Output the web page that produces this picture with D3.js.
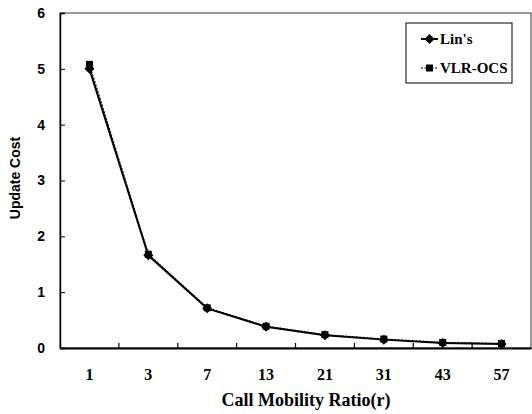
<!DOCTYPE html>
<html><head><meta charset="utf-8">
<script src="https://cdn.jsdelivr.net/npm/d3@7"></script>
<style>body{margin:0;background:#fff}svg{display:block}</style>
</head><body>
<script>
const categories = ["1","3","7","13","21","31","43","57"];
const linValues = [5.00, 1.66, 0.71, 0.38, 0.23, 0.15, 0.09, 0.07];
const vlrValues = [5.08, 1.68, 0.72, 0.39, 0.24, 0.16, 0.10, 0.08];
const yTicks = [0,1,2,3,4,5,6];
const seriesNames = ["Lin's", "VLR-OCS"];

const W = 532, H = 414;
const m = {left:60, right:1, top:13, bottom:66};
const svg = d3.select("body").append("svg").attr("width", W).attr("height", H);
const serif = "'Liberation Serif','Times New Roman',serif";
const sans = "'Liberation Sans','DejaVu Sans',sans-serif";

const x = d3.scaleBand().domain(categories).range([m.left, W - m.right]);
const y = d3.scaleLinear().domain([0,6]).range([H - m.bottom, m.top]);

// frame
svg.append("rect").attr("x", m.left).attr("y", m.top)
  .attr("width", W - m.right - m.left).attr("height", H - m.bottom - m.top)
  .attr("fill","none").attr("stroke","#333").attr("stroke-width",1);

// x axis
const xAxis = d3.axisBottom(x).tickSize(0).tickPadding(21);
const gx = svg.append("g").attr("transform", `translate(0,${H - m.bottom})`).call(xAxis);
gx.attr("font-size", null).attr("font-family", null);
gx.select(".domain").attr("stroke","#000").attr("stroke-width",2);
gx.selectAll("text").style("font-family", serif).style("font-size", "16px").style("font-weight","bold").attr("fill","#000");
// inner ticks between categories
svg.append("g").selectAll("line").data(categories.slice(1)).join("line")
  .attr("x1", d => x(d)).attr("x2", d => x(d))
  .attr("y1", H - m.bottom).attr("y2", H - m.bottom - 5)
  .attr("stroke","#000").attr("stroke-width",1.2);

// y axis
const yAxis = d3.axisLeft(y).tickValues(yTicks).tickSize(-5).tickPadding(15).tickFormat(d3.format("d"));
const gy = svg.append("g").attr("transform", `translate(${m.left},0)`).call(yAxis);
gy.attr("font-size", null).attr("font-family", null);
gy.select(".domain").attr("stroke","#000").attr("stroke-width",1.5);
gy.selectAll(".tick line").attr("stroke","#000");
gy.selectAll("text").style("font-family", sans).style("font-size", "14px").style("font-weight","bold").attr("fill","#000");

// axis titles
svg.append("text").attr("x", 306).attr("y", 406)
  .attr("text-anchor","middle").style("font-family", serif).style("font-size", "18px")
  .style("font-weight","bold").text("Call Mobility Ratio(r)");
svg.append("text").attr("transform", `translate(20,178) rotate(-90)`)
  .attr("text-anchor","middle").style("font-family", sans).style("font-size", "14px")
  .style("font-weight","bold").text("Update Cost");

const cx = d => x(d) + x.bandwidth()/2;

// VLR-OCS dotted line with squares
const line = d3.line().x(d => cx(d[0])).y(d => y(d[1]));
svg.append("path").datum(categories.map((c,i)=>[c,vlrValues[i]]))
  .attr("d", line).attr("fill","none").attr("stroke","#000").attr("stroke-width",1.2).attr("stroke-dasharray","2,1.5");
svg.append("g").selectAll("rect").data(categories.map((c,i)=>[c,vlrValues[i]])).join("rect")
  .attr("x", d => cx(d[0]) - 3.5).attr("y", d => y(d[1]) - 3.5).attr("width",7).attr("height",7).attr("fill","#000");

// Lin's solid line with diamonds
svg.append("path").datum(categories.map((c,i)=>[c,linValues[i]]))
  .attr("d", line).attr("fill","none").attr("stroke","#000").attr("stroke-width",2);
const dia = "M0,-5L5,0L0,5L-5,0Z";
svg.append("g").selectAll("path").data(categories.map((c,i)=>[c,linValues[i]])).join("path")
  .attr("d", dia).attr("transform", d => `translate(${cx(d[0])},${y(d[1])})`).attr("fill","#000");

// legend
const lg = svg.append("g");
lg.append("rect").attr("x",406).attr("y",23).attr("width",106).attr("height",60)
  .attr("fill","#fff").attr("stroke","#000").attr("stroke-width",1);
[0,1].forEach(i => {
  const yy = i === 0 ? 39 : 68;
  lg.append("line").attr("x1",421).attr("x2",438).attr("y1",yy).attr("y2",yy)
    .attr("stroke","#000").attr("stroke-width", i===0?2:1.2).attr("stroke-dasharray", i===0?null:"2,1.5");
  if (i===0) lg.append("path").attr("d", dia).attr("transform",`translate(429.5,${yy})`).attr("fill","#000");
  else lg.append("rect").attr("x",426).attr("y",yy-3.5).attr("width",7).attr("height",7).attr("fill","#000");
  lg.append("text").attr("x",440).attr("y",yy+5).style("font-family",serif).style("font-size","15px")
    .style("font-weight","bold").text(seriesNames[i]);
});
</script>
</body></html>
